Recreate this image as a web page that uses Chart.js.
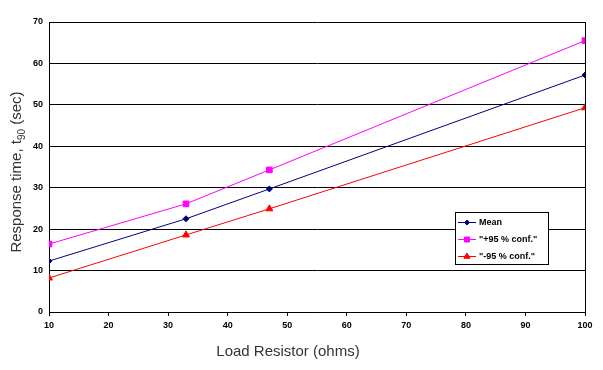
<!DOCTYPE html>
<html>
<head>
<meta charset="utf-8">
<script src="https://cdn.jsdelivr.net/npm/chart.js@4"></script>
<style>
  html, body { margin: 0; padding: 0; background: #fff; }
  #wrap { width: 603px; height: 370px; }
</style>
</head>
<body>
<div id="wrap"><canvas id="chart" width="603" height="370"></canvas></div>
<script>
// values
const resistors = [10, 33, 47, 100];
const meanTime = [12.3, 22.5, 29.7, 57.2];
const upperConf = [16.4, 26.1, 34.3, 65.5];
const lowerConf = [8.2, 18.6, 24.9, 49.3];
const seriesNames = ['Mean', '"+95 % conf."', '"-95 % conf."'];
const xTicks = [10, 20, 30, 40, 50, 60, 70, 80, 90, 100];
const yTicks = [0, 10, 20, 30, 40, 50, 60, 70];

const toPts = (vals) => resistors.map((r, i) => ({ x: r, y: vals[i] }));

const colors = ['#000080', '#ff00ff', '#ff0000'];
const styles = ['rectRot', 'rect', 'triangle'];
const radii = [3, 4, 4];

// frame, axis titles and the legend box inside the plot
const extras = {
    id: 'extras',
    afterDraw(chart) {
        const ctx = chart.ctx;
        const area = chart.chartArea;

        // right edge of the plot
        ctx.save();
        ctx.strokeStyle = '#000';
        ctx.lineWidth = 1;
        ctx.beginPath();
        ctx.moveTo(Math.round(area.right) + 0.5, area.top);
        ctx.lineTo(Math.round(area.right) + 0.5, area.bottom);
        ctx.stroke();
        ctx.restore();

        // y title with subscript 90
        ctx.save();
        ctx.translate(17, 172);
        ctx.rotate(-Math.PI / 2);
        ctx.fillStyle = '#333';
        ctx.textBaseline = 'middle';
        ctx.textAlign = 'left';
        const a = 'Response time, t';
        const b = ' (sec)';
        ctx.font = '15px Arial';
        const wa = ctx.measureText(a).width;
        const wb = ctx.measureText(b).width;
        ctx.font = '10px Arial';
        const ws = ctx.measureText('90').width;
        const x0 = -(wa + ws + wb) / 2;
        ctx.font = '15px Arial';
        ctx.fillText(a, x0, 0);
        ctx.font = '10px Arial';
        ctx.fillText('90', x0 + wa, 5);
        ctx.font = '15px Arial';
        ctx.fillText(b, x0 + wa + ws, 0);
        ctx.restore();

        // x title
        ctx.save();
        ctx.fillStyle = '#333';
        ctx.font = '15px Arial';
        ctx.textAlign = 'center';
        ctx.textBaseline = 'middle';
        ctx.fillText('Load Resistor (ohms)', 288, 352);
        ctx.restore();

        // legend
        ctx.save();
        const lx = 455, ly = 212, lw = 93, lh = 52;
        ctx.fillStyle = '#fff';
        ctx.fillRect(lx, ly, lw, lh);
        ctx.strokeStyle = '#000';
        ctx.lineWidth = 1;
        ctx.strokeRect(lx + 0.5, ly + 0.5, lw, lh);
        ctx.font = 'bold 9px Arial';
        ctx.textBaseline = 'middle';
        ctx.textAlign = 'left';
        seriesNames.forEach((name, i) => {
            const yy = ly + 10.5 + i * 17;
            ctx.strokeStyle = colors[i];
            ctx.fillStyle = colors[i];
            ctx.beginPath();
            ctx.moveTo(lx + 3, yy);
            ctx.lineTo(lx + 21, yy);
            ctx.stroke();
            Chart.helpers.drawPoint(ctx, {
                pointStyle: styles[i], radius: radii[i] - 0.5, borderWidth: 1
            }, lx + 12, yy);
            ctx.fillStyle = '#000';
            ctx.fillText(name, lx + 24, yy + 0.5);
        });
        ctx.restore();
    }
};

new Chart(document.getElementById('chart'), {
    type: 'line',
    data: {
        datasets: [meanTime, upperConf, lowerConf].map((vals, i) => ({
            label: seriesNames[i],
            data: toPts(vals),
            borderColor: colors[i],
            backgroundColor: colors[i],
            borderWidth: 1,
            pointStyle: styles[i],
            pointRadius: radii[i],
            pointBorderWidth: 1,
            tension: 0
        }))
    },
    options: {
        responsive: false,
        animation: false,
        layout: { padding: { top: 22, right: 18, left: 0, bottom: 0 } },
        plugins: {
            legend: { display: false },
            tooltip: { enabled: false }
        },
        scales: {
            x: {
                type: 'linear',
                min: 10,
                max: 100,
                afterBuildTicks(axis) { axis.ticks = xTicks.map(v => ({ value: v })); },
                afterFit(axis) { axis.height = 58; },
                grid: {
                    drawOnChartArea: false,
                    color: '#000',
                    tickLength: 4,
                    tickColor: '#000'
                },
                border: { color: '#000', width: 1 },
                ticks: {
                    color: '#000',
                    font: { family: 'Arial', size: 9, weight: 'bold' },
                    padding: 4,
                    maxRotation: 0
                }
            },
            y: {
                min: 0,
                max: 70,
                afterBuildTicks(axis) { axis.ticks = yTicks.map(v => ({ value: v })); },
                afterFit(axis) { axis.width = 49; },
                grid: {
                    color: '#000',
                    lineWidth: 1,
                    tickLength: 0
                },
                border: { color: '#000', width: 1 },
                ticks: {
                    color: '#000',
                    font: { family: 'Arial', size: 9, weight: 'bold' },
                    padding: 6
                }
            }
        }
    },
    plugins: [extras]
});
</script>
</body>
</html>
